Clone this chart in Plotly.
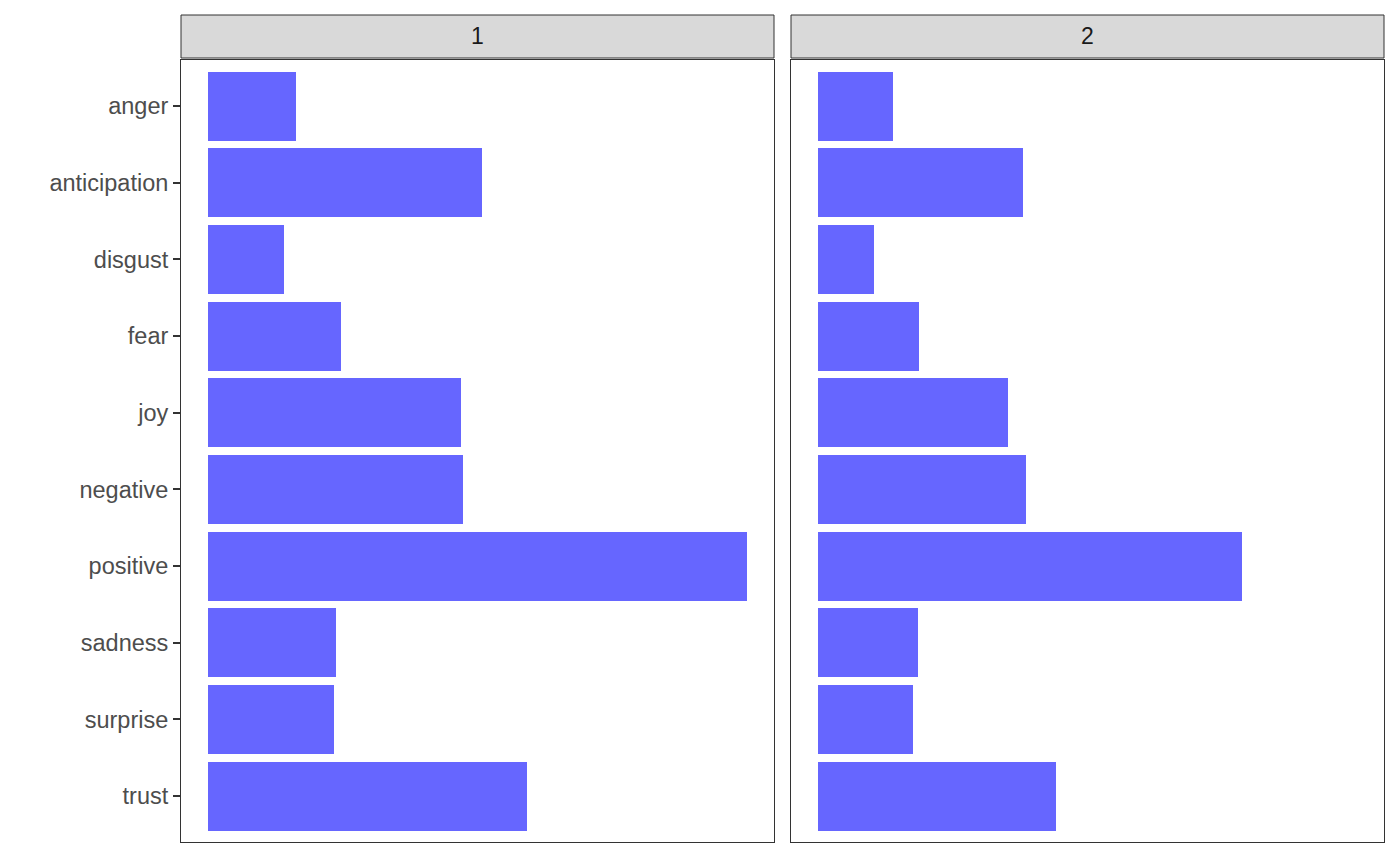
import plotly.graph_objects as go

categories = ["anger", "anticipation", "disgust", "fear", "joy",
              "negative", "positive", "sadness", "surprise", "trust"]
facet_labels = ["1", "2"]
values_1 = [89, 276, 76, 134, 254, 256, 542, 129, 127, 321]
values_2 = [75, 206, 56, 102, 191, 209, 426, 101, 96, 239]

W, H = 1400, 866
OFF = 8  # page body margin offset
BAR_COLOR = "#6666FF"

def px_x(p):
    return (p - OFF) / W

def px_y(p):
    return 1 - (p - OFF) / H

fig = go.Figure()
fig.add_trace(go.Bar(x=values_1, y=categories, orientation="h", width=0.9,
                     marker=dict(color=BAR_COLOR, line=dict(width=0)),
                     xaxis="x", yaxis="y", showlegend=False))
fig.add_trace(go.Bar(x=values_2, y=categories, orientation="h", width=0.9,
                     marker=dict(color=BAR_COLOR, line=dict(width=0)),
                     xaxis="x2", yaxis="y2", showlegend=False))

vmax = max(max(values_1), max(values_2))
xrange = [-0.05 * vmax, 1.05 * vmax]
yrange = [len(categories) - 0.4, -0.6]

x1_dom = [px_x(181), px_x(774)]
x2_dom = [px_x(791), px_x(1384)]
y_dom = [px_y(842), px_y(60)]

axis_common = dict(showgrid=False, zeroline=False, showline=True, mirror=True,
                   linecolor="#333333", linewidth=1)

fig.update_layout(
    width=W, height=H,
    margin=dict(l=0, r=0, t=0, b=0),
    paper_bgcolor="white", plot_bgcolor="white",
    bargap=0,
    font=dict(family="Liberation Sans, Arial, sans-serif"),
    xaxis=dict(domain=x1_dom, range=xrange, showticklabels=False, ticks="",
               anchor="y", **axis_common),
    xaxis2=dict(domain=x2_dom, range=xrange, showticklabels=False, ticks="",
                anchor="y2", **axis_common),
    yaxis=dict(domain=y_dom, range=yrange, type="category",
               categoryorder="array", categoryarray=categories,
               ticks="outside", ticklen=7, tickwidth=2, tickcolor="#333333",
               tickfont=dict(size=23.5, color="#4D4D4D"), anchor="x",
               **axis_common),
    yaxis2=dict(domain=y_dom, range=yrange, type="category",
                categoryorder="array", categoryarray=categories,
                showticklabels=False, ticks="", anchor="x2", matches="y",
                **axis_common),
)

for dom, lab in zip([x1_dom, x2_dom], facet_labels):
    fig.add_shape(type="rect", xref="paper", yref="paper",
                  x0=dom[0], x1=dom[1], y0=px_y(58), y1=px_y(15),
                  fillcolor="#D9D9D9", line=dict(color="#333333", width=1))
    fig.add_annotation(xref="paper", yref="paper",
                       x=(dom[0] + dom[1]) / 2, y=(px_y(58) + px_y(15)) / 2,
                       text=lab, showarrow=False,
                       font=dict(size=23, color="#1A1A1A"),
                       xanchor="center", yanchor="middle")

fig.write_html("out.html")
